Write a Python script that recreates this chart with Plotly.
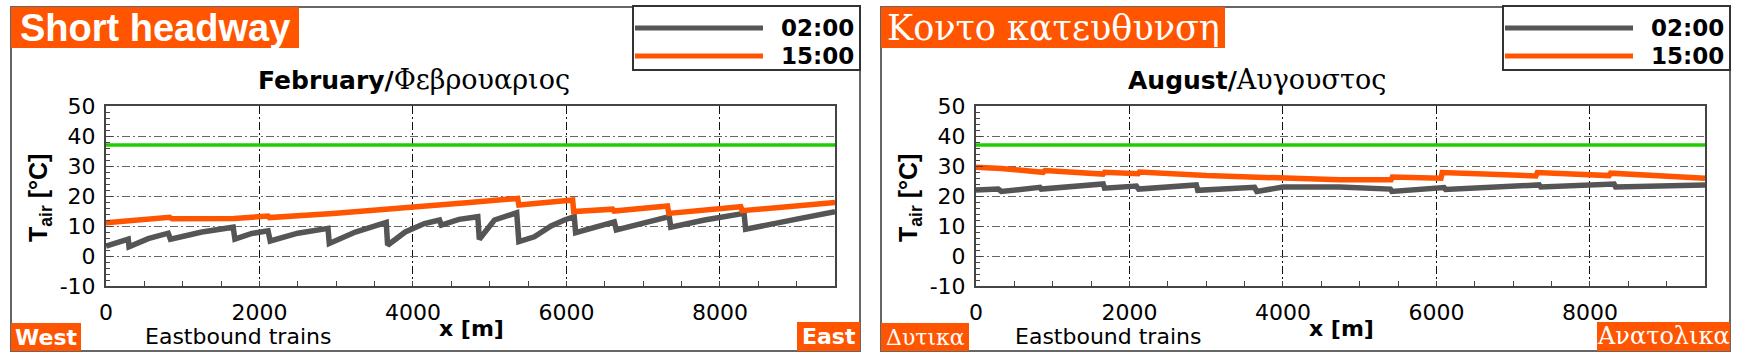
import plotly.graph_objects as go

W, H = 1740, 359

# ---------------- data ----------------
threshold_x = [0, 9500]
threshold_y = [37, 37]

feb_0200_x = [0, 150, 290, 300, 550, 811, 840, 1250, 1657, 1680, 1900, 2112, 2140, 2500, 2893, 2910,
              3250, 3652, 3670, 3900, 4150, 4346, 4370, 4600, 4845, 4865, 4950, 5062, 5352, 5380, 5582,
              5800, 5974, 6102, 6120, 6400, 6624, 6650, 7000, 7340, 7360, 7800, 8315, 8335, 9000, 9500]
feb_0200_y = [3.3, 4.6, 5.6, 3.1, 5.8, 7.6, 5.6, 8.0, 9.6, 5.6, 7.5, 8.4, 5.0, 7.6, 9.2, 4.2,
              8.0, 11.2, 3.6, 8.0, 10.8, 12.0, 10.3, 12.2, 13.1, 5.6, 8.5, 12.0, 14.4, 4.8, 6.4,
              10.0, 12.0, 13.1, 7.8, 10.0, 11.4, 8.7, 11.0, 13.1, 9.6, 12.0, 14.2, 8.9, 12.3, 14.8]

feb_1500_x = [0, 811, 830, 860, 1657, 1670, 2112, 2130, 2958, 3991, 4737, 5365, 5380, 6081, 6095,
              6602, 6620, 7317, 7335, 8272, 8290, 9500]
feb_1500_y = [11.1, 12.5, 12.9, 12.4, 12.9, 12.5, 13.3, 12.8, 14.2, 16.1, 17.8, 19.2, 17.0, 18.7, 14.8,
              15.6, 15.0, 16.7, 14.2, 16.4, 15.1, 17.8]

aug_0200_x = [0, 290, 330, 833, 850, 1657, 1675, 2090, 2120, 2871, 2890, 3630, 3660, 3999, 4737,
              5400, 5420, 6100, 6120, 6624, 7340, 7360, 8315, 8335, 9500]
aug_0200_y = [22.0, 22.3, 21.5, 22.9, 22.3, 24.0, 22.6, 23.3, 22.3, 23.7, 21.9, 22.9, 21.5, 23.0, 23.0,
              22.3, 21.5, 22.8, 22.2, 22.9, 23.7, 23.0, 24.0, 23.0, 23.7]

aug_1500_x = [0, 330, 876, 900, 1657, 1675, 2112, 2130, 3000, 3999, 4737, 5409, 5425, 6059, 6075,
              6624, 7296, 7315, 8250, 8270, 9500]
aug_1500_y = [29.6, 29.2, 27.9, 28.5, 27.3, 27.9, 27.4, 28.0, 26.8, 25.9, 25.4, 25.4, 26.3, 25.9, 27.8,
              27.3, 26.7, 27.8, 26.8, 27.6, 25.9]

series_names = ["02:00", "15:00"]
x_ticks = [0, 2000, 4000, 6000, 8000]
x_tick_labels = ["0", "2000", "4000", "6000", "8000"]
y_ticks = [-10, 0, 10, 20, 30, 40, 50]
y_tick_labels = ["-10", "0", "10", "20", "30", "40", "50"]

GRAY = "#555555"
ORANGE = "#FF5500"
GREEN = "#22CC00"

SANS = "DejaVu Sans"
SERIF = "DejaVu Serif"

panels = [
    dict(x02=feb_0200_x, y02=feb_0200_y, x15=feb_1500_x, y15=feb_1500_y,
         head="<b>Short headway</b>", head_font="Liberation Sans", head_size=38, head_box=(11, 299),
         title="<b>February/</b><span style='font-family:DejaVu Serif;font-weight:normal;font-size:27px'>Φεβρουαριος</span>",
         left="<b>West</b>", left_font=SANS, left_size=22, left_box=(11, 81),
         right="<b>East</b>", right_font=SANS, right_size=22, right_box=(797, 860)),
    dict(x02=aug_0200_x, y02=aug_0200_y, x15=aug_1500_x, y15=aug_1500_y,
         head="Κοντο κατευθυνση", head_font=SERIF, head_size=35, head_box=(11, 355),
         title="<b>August/</b><span style='font-family:DejaVu Serif;font-weight:normal;font-size:27px'>Αυγουστος</span>",
         left="Δυτικα", left_font=SERIF, left_size=22, left_box=(11, 99),
         right="Ανατολικα", right_font=SERIF, right_size=24, right_box=(727, 860)),
]


def px(xp):
    return xp / W


def py(yp):
    return 1 - yp / H


fig = go.Figure()
shapes = []
annotations = []
DASH = "8px,3px,2px,3px"

for i, p in enumerate(panels):
    off = 870 * i
    sfx = "" if i == 0 else str(i + 1)
    xa, ya = "x" + sfx, "y" + sfx
    fig.add_trace(go.Scatter(x=threshold_x, y=threshold_y, xaxis=xa, yaxis=ya, mode="lines",
                             line=dict(color=GREEN, width=3.5), showlegend=False, hoverinfo="skip"))
    fig.add_trace(go.Scatter(x=p["x02"], y=p["y02"], xaxis=xa, yaxis=ya, mode="lines", name=series_names[0],
                             line=dict(color=GRAY, width=5.5), showlegend=False))
    fig.add_trace(go.Scatter(x=p["x15"], y=p["y15"], xaxis=xa, yaxis=ya, mode="lines", name=series_names[1],
                             line=dict(color=ORANGE, width=5.5), showlegend=False))

    axfont = dict(family=SANS, size=22, color="black")
    fig.update_layout(**{
        "xaxis" + sfx: dict(domain=[px(106 + off), px(835 + off)], range=[0, 9500], anchor=ya,
                            tickvals=x_ticks, ticktext=x_tick_labels, automargin=False,
                            showgrid=True, gridcolor="#111111", griddash=DASH, gridwidth=1,
                            showline=True, linecolor="#444444", linewidth=2, mirror=True,
                            ticks="inside", ticklen=5, tickcolor="#444444", zeroline=False,
                            tickfont=axfont, ticklabelstandoff=6,
                            minor=dict(dtick=500, ticks="inside", ticklen=5, tickcolor="#444444", showgrid=False)),
        "yaxis" + sfx: dict(domain=[73 / H, 253 / H], range=[-10, 50], anchor=xa,
                            tickvals=y_ticks, ticktext=y_tick_labels, automargin=False,
                            showgrid=True, gridcolor="#666666", griddash=DASH, gridwidth=1,
                            showline=True, linecolor="#444444", linewidth=2, mirror=True,
                            ticks="inside", ticklen=7, tickcolor="#444444", zeroline=False,
                            tickfont=axfont, ticklabelstandoff=4,
                            minor=dict(dtick=2, ticks="inside", ticklen=4, tickcolor="#444444", showgrid=False)),
    })

    # outer panel frame
    shapes.append(dict(type="rect", xref="paper", yref="paper", x0=px(11 + off), x1=px(860 + off),
                       y0=py(351), y1=py(7), line=dict(color="#666666", width=2), fillcolor="rgba(0,0,0,0)"))
    # orange header box
    hb = p["head_box"]
    shapes.append(dict(type="rect", xref="paper", yref="paper", x0=px(hb[0] + off), x1=px(hb[1] + off),
                       y0=py(48), y1=py(7), line=dict(width=0), fillcolor=ORANGE))
    annotations.append(dict(xref="paper", yref="paper", x=px((hb[0] + hb[1]) / 2 + off), y=py(28),
                            text=p["head"], showarrow=False, xanchor="center", yanchor="middle",
                            font=dict(family=p["head_font"], size=p["head_size"], color="white")))
    # bottom orange boxes
    lb, rb = p["left_box"], p["right_box"]
    shapes.append(dict(type="rect", xref="paper", yref="paper", x0=px(lb[0] + off), x1=px(lb[1] + off),
                       y0=py(351), y1=py(323), line=dict(width=0), fillcolor=ORANGE))
    shapes.append(dict(type="rect", xref="paper", yref="paper", x0=px(rb[0] + off), x1=px(rb[1] + off),
                       y0=py(351), y1=py(322), line=dict(width=0), fillcolor=ORANGE))
    annotations.append(dict(xref="paper", yref="paper", x=px((lb[0] + lb[1]) / 2 + off), y=py(337),
                            text=p["left"], showarrow=False, xanchor="center", yanchor="middle",
                            font=dict(family=p["left_font"], size=p["left_size"], color="white")))
    annotations.append(dict(xref="paper", yref="paper", x=px((rb[0] + rb[1]) / 2 + off), y=py(336),
                            text=p["right"], showarrow=False, xanchor="center", yanchor="middle",
                            font=dict(family=p["right_font"], size=p["right_size"], color="white")))
    # subplot title
    annotations.append(dict(xref="paper", yref="paper", x=px(256 + off), y=py(79),
                            text=p["title"], showarrow=False, xanchor="left", yanchor="middle",
                            font=dict(family=SANS, size=25, color="black")))
    # legend box
    shapes.append(dict(type="rect", xref="paper", yref="paper", x0=px(633 + off), x1=px(860 + off),
                       y0=py(70), y1=py(6), line=dict(color="#333333", width=2), fillcolor="white"))
    for k, (col, yy) in enumerate([(GRAY, 28), (ORANGE, 56)]):
        shapes.append(dict(type="line", xref="paper", yref="paper", x0=px(635 + off), x1=px(763 + off),
                           y0=py(yy), y1=py(yy), line=dict(color=col, width=5)))
        annotations.append(dict(xref="paper", yref="paper", x=px(856 + off), y=py(yy),
                                text="<b>" + series_names[k] + "</b>", showarrow=False,
                                xanchor="right", yanchor="middle",
                                font=dict(family=SANS, size=23, color="black")))
    # axis titles
    annotations.append(dict(xref="paper", yref="paper", x=px(40 + off), y=py(198),
                            text="<b>T<sub>air</sub> [°C]</b>", showarrow=False, textangle=-90,
                            xanchor="center", yanchor="middle",
                            font=dict(family="Liberation Sans, Arial", size=25, color="black")))
    annotations.append(dict(xref="paper", yref="paper", x=px(471 + off), y=py(328),
                            text="<b>x [m]</b>", showarrow=False, xanchor="center", yanchor="middle",
                            font=dict(family=SANS, size=22, color="black")))
    annotations.append(dict(xref="paper", yref="paper", x=px(238 + off), y=py(336),
                            text="Eastbound trains", showarrow=False, xanchor="center", yanchor="middle",
                            font=dict(family=SANS, size=22, color="black")))

fig.update_layout(width=W, height=H, autosize=False, margin=dict(l=0, r=0, t=0, b=0, pad=0),
                  paper_bgcolor="white", plot_bgcolor="white", showlegend=False,
                  shapes=shapes, annotations=annotations)

fig.write_html("out.html", config={"displayModeBar": False},
               post_script="document.body.style.margin='0';document.body.style.overflow='hidden';")
